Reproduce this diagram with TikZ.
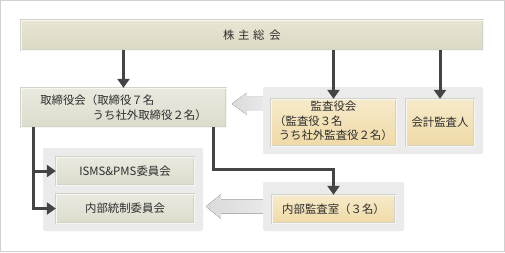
\documentclass[tikz,border=0pt]{standalone}
\usepackage{fontspec}
\setmainfont{Noto Sans CJK JP}
\usepackage{xcolor}
\usetikzlibrary{positioning, arrows.meta, calc}

\definecolor{framegray}{HTML}{D0D0D0}
\definecolor{grpgray}{HTML}{EBEBEB}
\definecolor{bartop}{HTML}{E8E6D3}
\definecolor{barbot}{HTML}{DBD9C4}
\definecolor{boxtop}{HTML}{E9E9DF}
\definecolor{boxbot}{HTML}{DCDCCD}
\definecolor{goldtop}{HTML}{F7EACA}
\definecolor{goldbot}{HTML}{EFDAA6}
\definecolor{edgegray}{HTML}{D2D2C8}
\definecolor{edgelight}{HTML}{F7F7F1}
\definecolor{arrdark}{HTML}{444444}
\definecolor{flowdark}{HTML}{DADADA}
\definecolor{flowlight}{HTML}{E8E8E8}
\definecolor{txtgray}{HTML}{2E2E2E}

\newcommand{\orgfont}{\fontsize{11.4}{14.5}\selectfont}

\begin{document}
\begin{tikzpicture}[x=1pt, y=-1pt,
    box/.style={draw=edgegray, double=edgelight, double distance=0.8pt, line width=0.3pt, top color=boxtop, bottom color=boxbot, inner sep=0pt, font=\orgfont, text=txtgray, align=center},
    goldbox/.style={box, top color=goldtop, bottom color=goldbot},
    group/.style={fill=grpgray, rounded corners=2pt, inner sep=0pt},
    arr/.style={-{Triangle[length=9pt, width=12pt]}, line width=3pt, draw=arrdark},
    flow/.style={left color=flowdark, right color=flowlight, draw=none}
]
% Frame
\useasboundingbox (0,0) rectangle (505,252);
\draw[framegray, fill=white] (0.5,0.5) rectangle (504.5,251.5);
% Groups
\node[group, minimum width=220pt, minimum height=67pt] (audgrp) at (373,120.5) {};
\node[group, minimum width=160pt, minimum height=83pt] (comgrp) at (123,189.5) {};
\node[group, minimum width=141pt, minimum height=49pt] (iagrp)  at (333.5,206.5) {};
% Bodies
\node[box, top color=bartop, bottom color=barbot, minimum width=462pt, minimum height=30pt] (gm) at (252,35) {株\kern3.5pt主\kern3.5pt総\kern5pt会};
\node[box, minimum width=205pt, minimum height=39pt, align=left] (board) at (123.5,107.5) {取締役会（取締役７名\\\hspace*{4.6em}うち社外取締役２名）};
\node[goldbox, minimum width=125pt, minimum height=47pt] (kansa)  at (333.5,122.5) {\begin{tabular}{@{}l@{}}\multicolumn{1}{@{}c@{}}{監査役会}\\（監査役３名\\\hspace*{0.4em}うち社外監査役２名）\end{tabular}};
\node[goldbox, minimum width=68pt, minimum height=47pt]  (kaikei) at (440,122.5) {会計監査人};
\node[box, minimum width=138pt, minimum height=28pt] (isms)  at (125,171)   {ISMS\&PMS委員会};
\node[box, minimum width=138pt, minimum height=29pt] (naibu) at (125,208.5) {内部統制委員会};
\node[goldbox, minimum width=123pt, minimum height=28pt] (ia) at (333.5,209) {内部監査室（３名）};
% Election arrows
\draw[arr] (board.north |- gm.south) -- (board.north);
\draw[arr] (kansa.north |- gm.south) -- (kansa.north);
\draw[arr] (kaikei.north |- gm.south) -- (kaikei.north);
% Board to committees and internal audit
\draw[arr] ($(board.south west)+(13,0)$) |- (isms.west);
\draw[arr] ($(board.south west)+(13,0)$) |- (naibu.west);
\draw[arr] ($(board.south east)+(-13,0)$) -- ++(0,42) -| (ia.north);
% Audit flows
\coordinate (flowA) at ($(audgrp.north west)+(0,17)$);
\fill[flow] ($(flowA)+(0,-7)$) -- ++(-16,0) -- ++(0,-4) -- ++(-15,11) -- ++(15,11) -- ++(0,-4) -- ++(16,0) -- cycle;
\coordinate (flowB) at (iagrp.west);
\fill[flow] ($(flowB)+(0,-7)$) -- ++(-42,0) -- ++(0,-5) -- ++(-15,12) -- ++(15,12) -- ++(0,-5) -- ++(42,0) -- cycle;
\end{tikzpicture}
\end{document}
